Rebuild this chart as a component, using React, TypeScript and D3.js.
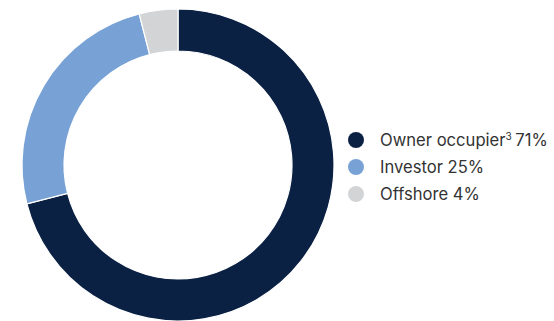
import React from "react";
import * as d3 from "d3";

const categories = ["Owner occupier", "Investor", "Offshore"];
const values = [71, 25, 4];
const superscripts = ["3", "", ""];
const colors = ["#0b2144", "#78a2d5", "#d3d4d6"];

export default function App() {
  const width = 554;
  const height = 321;
  const cx = 178;
  const cy = 165;
  const outerR = 156;
  const innerR = 114;

  const pie = d3.pie<number>().sort(null).value((d) => d)(values);
  const arc = d3.arc<d3.PieArcDatum<number>>().innerRadius(innerR).outerRadius(outerR);

  const legendX = 356;
  const legendY0 = 140;
  const legendStep = 27;
  const supShift = 6;

  return (
    <svg
      width={width}
      height={height}
      style={{ position: "absolute", left: 0, top: 0, background: "#fff" }}
    >
      <g transform={`translate(${cx},${cy})`}>
        {pie.map((p, i) => (
          <path key={i} d={arc(p) || ""} fill={colors[i]} stroke="#fff" strokeWidth={1.2} />
        ))}
      </g>
      <g fontFamily="Inter, 'Noto Sans', sans-serif" fontSize={16.6} fill="#333">
        {categories.map((c, i) => (
          <g key={c} transform={`translate(${legendX},${legendY0 + i * legendStep})`}>
            <circle r={8} fill={colors[i]} />
            <text x={24} y={6}>
              {c}
              {superscripts[i] ? (
                <tspan fontSize={10} dy={-supShift}>{superscripts[i]}</tspan>
              ) : null}
              {superscripts[i] ? (
                <tspan dy={supShift} dx={-1}>{" " + values[i] + "%"}</tspan>
              ) : (
                " " + values[i] + "%"
              )}
            </text>
          </g>
        ))}
      </g>
    </svg>
  );
}
